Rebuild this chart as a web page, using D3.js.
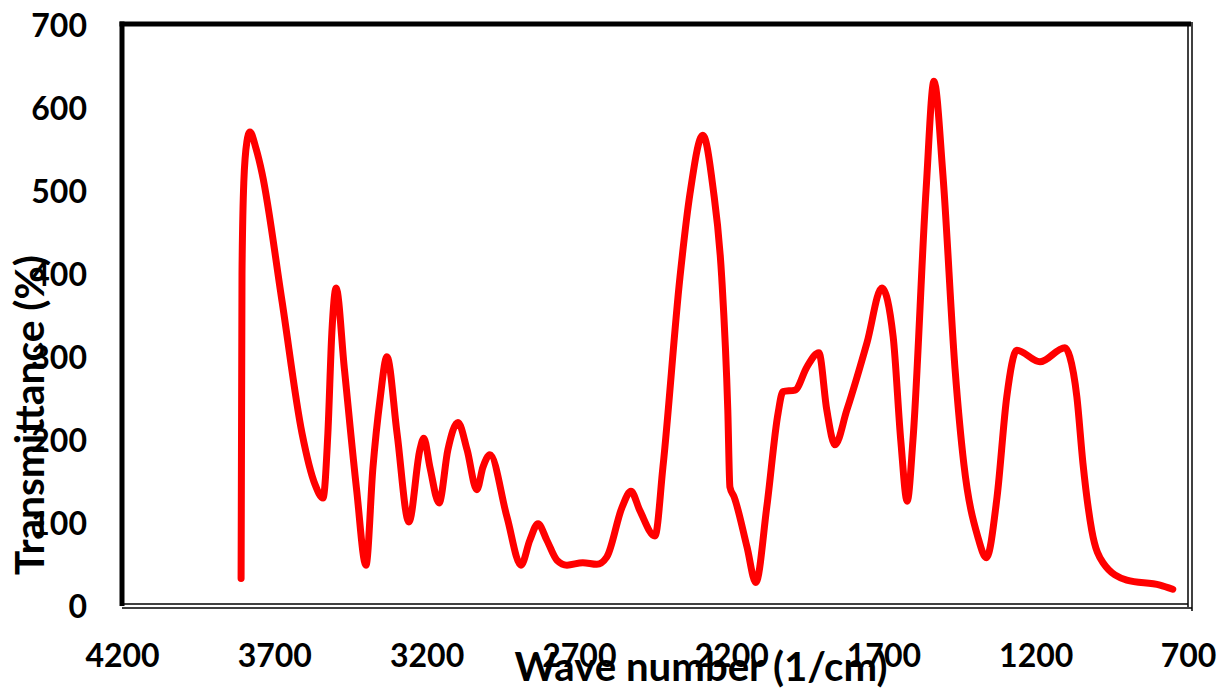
<!DOCTYPE html>
<html>
<head>
<meta charset="utf-8">
<script src="https://cdn.jsdelivr.net/npm/d3@7"></script>
<style>
  body { margin: 0; background: #fff; }
  text { font-family: Lato, "Open Sans", sans-serif; font-weight: 700; fill: #000; }
</style>
</head>
<body>
<div id="chart"></div>
<script>
// Wave numbers (1/cm)
var waveNumbers = [3809, 3806, 3800, 3790, 3780, 3760, 3740, 3675, 3609, 3566,
  3540, 3524, 3511, 3497, 3470, 3430, 3399, 3376, 3353, 3330,
  3297, 3258, 3222, 3209, 3189, 3159, 3130, 3097, 3067, 3035,
  3015, 2992, 2936, 2890, 2861, 2834, 2805, 2772, 2739, 2687,
  2641, 2608, 2558, 2529, 2500, 2450, 2424, 2368, 2335, 2293,
  2260, 2231, 2211, 2204, 2190, 2148, 2119, 2083, 2046, 2030,
  1990, 1951, 1912, 1886, 1859, 1820, 1754, 1705, 1668, 1643,
  1622, 1603, 1560, 1534, 1505, 1465, 1436, 1390, 1362, 1327,
  1295, 1262, 1186, 1104, 1088, 1065, 1045, 1016, 979, 901,
  792, 750];

// Transmittance (%)
var transmittance = [32, 400, 510, 558, 570, 550, 520, 367, 207, 145,
  129, 207, 328, 382, 285, 140, 48, 166, 247, 299,
  207, 100, 187, 201, 166, 123, 187, 220, 187, 139,
  166, 181, 106, 48, 78, 98, 78, 54, 48, 51,
  49, 58, 118, 137, 114, 83, 166, 395, 496, 566,
  504, 395, 235, 142, 130, 70, 27, 118, 231, 257,
  259, 287, 304, 235, 193, 235, 316, 382, 323, 198,
  125, 199, 500, 631, 520, 285, 170, 82, 57, 130,
  251, 307, 293, 310, 299, 251, 171, 90, 51, 30,
  24, 19];

var xTicks = [4200, 3700, 3200, 2700, 2200, 1700, 1200, 700];
var yTicks = [0, 100, 200, 300, 400, 500, 600, 700];

var width = 1218;
var height = 697;
var plot = { left: 122, right: 1188, top: 24, bottom: 605 };

var svg = d3.select('#chart').append('svg')
  .attr('width', width)
  .attr('height', height);

svg.append('rect')
  .attr('width', width)
  .attr('height', height)
  .attr('fill', '#fff');

//Scales - wave number runs right to left
var x = d3.scaleLinear().domain([4200, 700]).range([plot.left, plot.right]);
var y = d3.scaleLinear().domain([0, 700]).range([plot.bottom, plot.top]);

//Axes, tick marks hidden, labels only
var xAxis = svg.append('g')
  .attr('transform', 'translate(0,' + plot.bottom + ')')
  .call(d3.axisBottom(x).tickValues(xTicks).tickSize(0).tickPadding(0).tickFormat(d3.format('d')));
xAxis.select('.domain').remove();
xAxis.selectAll('text')
  .attr('y', 62)
  .attr('dy', 0)
  .style('font-size', '32px');

var yAxis = svg.append('g')
  .attr('transform', 'translate(' + plot.left + ',0)')
  .call(d3.axisLeft(y).tickValues(yTicks).tickSize(0).tickPadding(0).tickFormat(d3.format('d')));
yAxis.select('.domain').remove();
yAxis.selectAll('text')
  .attr('x', -35)
  .attr('dy', 12)
  .style('font-size', '32px');

//Frame: heavy left/top, thin double right/bottom
var frame = svg.append('g').attr('fill', 'none').attr('stroke', '#000');
frame.append('line')
  .attr('x1', plot.left).attr('x2', plot.left)
  .attr('y1', plot.top - 2.5).attr('y2', plot.bottom + 1)
  .attr('stroke-width', 5);
frame.append('line')
  .attr('x1', plot.left - 2.5).attr('x2', plot.right + 3)
  .attr('y1', plot.top).attr('y2', plot.top)
  .attr('stroke-width', 5);
[0, 4].forEach(function(off) {
  frame.append('line')
    .attr('x1', plot.right + off).attr('x2', plot.right + off)
    .attr('y1', plot.top - 2).attr('y2', plot.bottom + 2 + off)
    .attr('stroke-width', 1.5);
  frame.append('line')
    .attr('x1', plot.left).attr('x2', plot.right + off)
    .attr('y1', plot.bottom + off - 1).attr('y2', plot.bottom + off - 1)
    .attr('stroke-width', 1.5);
});

//Spectrum line
var points = waveNumbers.map(function(w, i) {
  return [w, transmittance[i]];
});

var line = d3.line()
  .x(function(d) { return x(d[0]); })
  .y(function(d) { return y(d[1]); })
  .curve(d3.curveMonotoneX);

svg.append('path')
  .datum(points)
  .attr('d', line)
  .attr('fill', 'none')
  .attr('stroke', '#ff0000')
  .attr('stroke-width', 7)
  .attr('stroke-linecap', 'round')
  .attr('stroke-linejoin', 'round');

//Axis titles
function fitText(sel, target) {
  var len = sel.node().getComputedTextLength();
  var size = parseFloat(sel.style('font-size'));
  sel.style('font-size', (size * target / len) + 'px');
}

var xTitle = svg.append('text')
  .attr('x', 701)
  .attr('y', 681)
  .attr('text-anchor', 'middle')
  .style('font-size', '38px')
  .text('Wave number (1/cm)');
fitText(xTitle, 373);

var yTitle = svg.append('text')
  .attr('transform', 'translate(44,415) rotate(-90)')
  .attr('text-anchor', 'middle')
  .style('font-size', '38px')
  .text('Transmittance (%)');
fitText(yTitle, 320);
</script>
</body>
</html>
